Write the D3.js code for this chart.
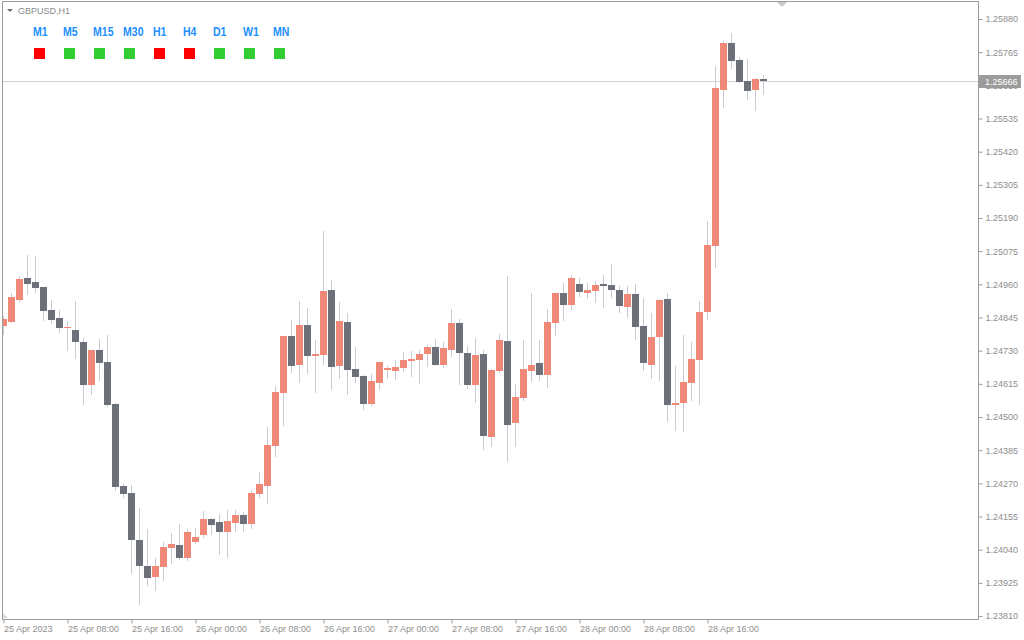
<!DOCTYPE html>
<html>
<head>
<meta charset="utf-8">
<script src="https://cdn.jsdelivr.net/npm/d3@7"></script>
<style>
body { margin: 0; background: #ffffff; }
text { font-family: 'Liberation Sans', Arial, sans-serif; }
</style>
</head>
<body>
<svg id='chart'></svg>

<script>
// GBPUSD H1, 25 Apr 2023 00:00 -> 28 Apr 2023 23:00 (one candle per hour)
var opens = [
	1.24816, 1.24830, 1.24906, 1.24982, 1.24968, 1.24951, 1.24871, 1.24843, 1.24809, 1.24802,
	1.24760, 1.24611, 1.24732, 1.24691, 1.24545, 1.24261, 1.24237, 1.24074, 1.23984, 1.23945,
	1.23980, 1.24046, 1.24056, 1.24011, 1.24067, 1.24091, 1.24147, 1.24136, 1.24102, 1.24133,
	1.24160, 1.24129, 1.24233, 1.24261, 1.24400, 1.24583, 1.24781, 1.24680, 1.24819, 1.24712,
	1.24715, 1.24940, 1.24677, 1.24830, 1.24667, 1.24642, 1.24545, 1.24618, 1.24663, 1.24660,
	1.24670, 1.24694, 1.24698, 1.24719, 1.24743, 1.24680, 1.24732, 1.24826, 1.24722, 1.24611,
	1.24719, 1.24431, 1.24660, 1.24764, 1.24479, 1.24566, 1.24660, 1.24687, 1.24646, 1.24826,
	1.24930, 1.24888, 1.24961, 1.24930, 1.24937, 1.24961, 1.24958, 1.24940, 1.24882, 1.24927,
	1.24816, 1.24680, 1.24778, 1.24909, 1.24542, 1.24549, 1.24618, 1.24698, 1.24864, 1.25093,
	1.25634, 1.25797, 1.25738, 1.25665, 1.25634, 1.25672
];
var highs = [
	1.24850, 1.24930, 1.24989, 1.25062, 1.25058, 1.24951, 1.24906, 1.24871, 1.24833, 1.24902,
	1.24774, 1.24732, 1.24771, 1.24785, 1.24549, 1.24271, 1.24264, 1.24185, 1.24112, 1.24011,
	1.24067, 1.24098, 1.24129, 1.24112, 1.24115, 1.24174, 1.24150, 1.24164, 1.24178, 1.24178,
	1.24171, 1.24247, 1.24310, 1.24466, 1.24608, 1.24781, 1.24837, 1.24902, 1.24878, 1.24767,
	1.25145, 1.24975, 1.24899, 1.24861, 1.24743, 1.24646, 1.24649, 1.24691, 1.24677, 1.24698,
	1.24726, 1.24729, 1.24732, 1.24750, 1.24771, 1.24760, 1.24875, 1.24840, 1.24746, 1.24774,
	1.24732, 1.24667, 1.24788, 1.24989, 1.24615, 1.24767, 1.24930, 1.24767, 1.24875, 1.24930,
	1.24965, 1.24993, 1.24982, 1.24965, 1.24972, 1.24993, 1.25031, 1.24954, 1.24954, 1.24961,
	1.24913, 1.24861, 1.24909, 1.24930, 1.24677, 1.24785, 1.24760, 1.24902, 1.25180, 1.25717,
	1.25804, 1.25831, 1.25748, 1.25741, 1.25675, 1.25686
];
var lows = [
	1.24788, 1.24830, 1.24902, 1.24927, 1.24934, 1.24837, 1.24826, 1.24795, 1.24732, 1.24705,
	1.24545, 1.24580, 1.24628, 1.24538, 1.24247, 1.24223, 1.23959, 1.23852, 1.23918, 1.23900,
	1.23935, 1.23994, 1.24008, 1.24004, 1.24063, 1.24084, 1.24095, 1.24025, 1.24015, 1.24105,
	1.24105, 1.24115, 1.24223, 1.24202, 1.24365, 1.24472, 1.24656, 1.24622, 1.24653, 1.24587,
	1.24684, 1.24597, 1.24635, 1.24580, 1.24622, 1.24528, 1.24542, 1.24597, 1.24635, 1.24632,
	1.24660, 1.24642, 1.24618, 1.24677, 1.24680, 1.24674, 1.24712, 1.24615, 1.24601, 1.24552,
	1.24389, 1.24400, 1.24656, 1.24348, 1.24400, 1.24559, 1.24625, 1.24628, 1.24604, 1.24785,
	1.24837, 1.24875, 1.24920, 1.24913, 1.24899, 1.24882, 1.24916, 1.24864, 1.24847, 1.24771,
	1.24663, 1.24635, 1.24628, 1.24486, 1.24455, 1.24452, 1.24559, 1.24545, 1.24840, 1.25020,
	1.25575, 1.25710, 1.25662, 1.25603, 1.25565, 1.25620
];
var closes = [
	1.24840, 1.24916, 1.24979, 1.24961, 1.24947, 1.24868, 1.24837, 1.24809, 1.24812, 1.24760,
	1.24611, 1.24732, 1.24687, 1.24542, 1.24258, 1.24233, 1.24074, 1.23984, 1.23942, 1.23984,
	1.24050, 1.24060, 1.24011, 1.24102, 1.24084, 1.24147, 1.24126, 1.24102, 1.24140, 1.24160,
	1.24129, 1.24237, 1.24268, 1.24403, 1.24587, 1.24781, 1.24677, 1.24819, 1.24712, 1.24719,
	1.24937, 1.24674, 1.24833, 1.24663, 1.24639, 1.24545, 1.24625, 1.24691, 1.24670, 1.24674,
	1.24698, 1.24701, 1.24719, 1.24743, 1.24680, 1.24739, 1.24826, 1.24722, 1.24611, 1.24715,
	1.24434, 1.24663, 1.24767, 1.24472, 1.24570, 1.24667, 1.24680, 1.24646, 1.24830, 1.24930,
	1.24888, 1.24982, 1.24934, 1.24940, 1.24958, 1.24954, 1.24940, 1.24885, 1.24927, 1.24812,
	1.24687, 1.24778, 1.24906, 1.24542, 1.24549, 1.24622, 1.24701, 1.24864, 1.25097, 1.25641,
	1.25797, 1.25734, 1.25662, 1.25630, 1.25672, 1.25666
];

var bidPrice = 1.25666;

var priceTicks = [
	1.23810, 1.23925, 1.24040, 1.24155, 1.24270, 1.24385, 1.24500, 1.24615, 1.24730, 1.24845,
	1.24960, 1.25075, 1.25190, 1.25305, 1.25420, 1.25535, 1.25650, 1.25765, 1.25880
];
var timeTickHours = [0, 8, 16, 24, 32, 40, 48, 56, 64, 72, 80, 88];
var timeTickLabels = [
	'25 Apr 2023', '25 Apr 08:00', '25 Apr 16:00', '26 Apr 00:00', '26 Apr 08:00', '26 Apr 16:00',
	'27 Apr 00:00', '27 Apr 08:00', '27 Apr 16:00', '28 Apr 00:00', '28 Apr 08:00', '28 Apr 16:00'
];

// trend panel in the top left corner
var tfNames = ['M1', 'M5', 'M15', 'M30', 'H1', 'H4', 'D1', 'W1', 'MN'];
var tfUp = [false, true, true, true, false, false, true, true, true];

var dims = {
	width: 1024,
	height: 640,
	left: 2,
	top: 1,
	right: 978,
	bottom: 619,
	barStep: 8,
	bodyWidth: 7
};

var colors = {
	bull: '#f08878',
	bear: '#6b7079',
	wick: '#c8ccd8',
	frame: '#9c9c9c',
	text: '#8e8e8e',
	bid: '#d4d4d4',
	tfText: '#1e90ff',
	tfUp: '#32cd32',
	tfDown: '#ff0000'
};

var hour = 3600 * 1000;
var t0 = Date.UTC(2023, 3, 25, 0, 0);
var candles = opens.map((o, i) => ({
	t: new Date(t0 + i * hour),
	o: o, h: highs[i], l: lows[i], c: closes[i]
}));

var svg = d3.select('#chart')
	.attr('width', dims.width)
	.attr('height', dims.height)
	.style('display', 'block');

svg.append('rect')
	.attr('width', dims.width)
	.attr('height', dims.height)
	.attr('fill', '#ffffff');

var x = d3.scaleUtc()
	.domain([new Date(t0), new Date(t0 + 96 * hour)])
	.range([3.5, 3.5 + 96 * dims.barStep]);

var y = d3.scaleLinear()
	.domain([1.23810, 1.25880])
	.range([616, 19]);

svg.append('clipPath').attr('id', 'plotclip')
	.append('rect')
	.attr('x', dims.left + 1)
	.attr('y', dims.top + 1)
	.attr('width', dims.right - dims.left - 1)
	.attr('height', dims.bottom - dims.top - 1);

var plot = svg.append('g').attr('clip-path', 'url(#plotclip)');

// bid line
plot.append('line')
	.attr('x1', dims.left)
	.attr('x2', dims.right)
	.attr('y1', Math.round(y(bidPrice)) + 0.5)
	.attr('y2', Math.round(y(bidPrice)) + 0.5)
	.attr('stroke', colors.bid)
	.attr('stroke-width', 1);

var candle = plot.selectAll('g.candle')
	.data(candles)
	.enter()
	.append('g')
	.attr('class', 'candle');

candle.append('line')
	.attr('x1', d => x(d.t))
	.attr('x2', d => x(d.t))
	.attr('y1', d => Math.round(y(d.h)))
	.attr('y2', d => Math.round(y(d.l)) + 1)
	.attr('stroke', colors.wick)
	.attr('stroke-width', 1);

candle.append('rect')
	.attr('x', d => x(d.t) - dims.bodyWidth / 2)
	.attr('width', dims.bodyWidth)
	.attr('y', d => Math.round(y(Math.max(d.o, d.c))))
	.attr('height', d => Math.max(1, Math.round(y(Math.min(d.o, d.c))) - Math.round(y(Math.max(d.o, d.c)))))
	.attr('fill', d => d.c >= d.o ? colors.bull : colors.bear)
	.attr('shape-rendering', 'crispEdges');

// frame
svg.append('rect')
	.attr('x', dims.left + 0.5)
	.attr('y', dims.top + 0.5)
	.attr('width', dims.right - dims.left)
	.attr('height', dims.bottom - dims.top)
	.attr('fill', 'none')
	.attr('stroke', colors.frame)
	.attr('stroke-width', 1);

// chart shift marker and corner mark
svg.append('path')
	.attr('d', 'M777,2 L787,2 L782,7 Z')
	.attr('fill', '#c8c8c8');
svg.append('path')
	.attr('d', 'M3,613 L3,618 L8,618 Z')
	.attr('fill', '#d8d8e4');

// price axis
var yAxis = d3.axisRight(y)
	.tickValues(priceTicks)
	.tickSize(4)
	.tickPadding(3)
	.tickFormat(d3.format('.5f'));

var yg = svg.append('g')
	.attr('transform', 'translate(' + (dims.right + 0.5) + ',0)')
	.call(yAxis);
yg.select('.domain').remove();
yg.selectAll('.tick line').attr('stroke', colors.frame);
yg.selectAll('.tick text')
	.attr('fill', colors.text)
	.style('font-size', '9px')
	.style('font-family', "'Liberation Sans', Arial, sans-serif");

// time axis
var xAxis = d3.axisBottom(x)
	.tickValues(timeTickHours.map(h => new Date(t0 + h * hour)))
	.tickSize(4)
	.tickFormat((d, i) => timeTickLabels[i]);

var xg = svg.append('g')
	.attr('transform', 'translate(0,' + (dims.bottom + 0.5) + ')')
	.call(xAxis);
xg.select('.domain').remove();
xg.selectAll('.tick line').attr('stroke', colors.frame);
xg.selectAll('.tick text')
	.attr('fill', colors.text)
	.attr('text-anchor', 'start')
	.attr('x', 0)
	.attr('dy', '0.71em')
	.attr('y', 6)
	.style('font-size', '9px')
	.style('font-family', "'Liberation Sans', Arial, sans-serif");

// bid label on the price scale
var bidY = Math.round(y(bidPrice));
svg.append('rect')
	.attr('x', dims.right + 1)
	.attr('y', bidY - 6)
	.attr('width', 42)
	.attr('height', 13)
	.attr('fill', '#9c9c9c');
svg.append('text')
	.attr('x', dims.right + 7)
	.attr('y', bidY + 0.5)
	.attr('dy', '0.35em')
	.attr('fill', '#ffffff')
	.style('font-size', '9px')
	.text(d3.format('.5f')(bidPrice));

// symbol title
svg.append('path')
	.attr('d', 'M7,9 L13,9 L10,12 Z')
	.attr('fill', '#707070');
svg.append('text')
	.attr('x', 18)
	.attr('y', 11)
	.attr('dy', '0.35em')
	.attr('fill', '#8a8a8a')
	.style('font-size', '9px')
	.text('GBPUSD,H1');

// multi timeframe trend panel
var tf = svg.selectAll('g.tf')
	.data(tfNames)
	.enter()
	.append('g')
	.attr('class', 'tf')
	.attr('transform', (d, i) => 'translate(' + (33 + 30 * i) + ',0)');

tf.append('text')
	.attr('transform', 'translate(0,36) scale(0.88,1)')
	.attr('fill', colors.tfText)
	.style('font-family', "'Liberation Sans', Arial, sans-serif")
	.style('font-weight', 'bold')
	.style('font-size', '12px')
	.text(d => d);

tf.append('rect')
	.attr('x', 1)
	.attr('y', 48)
	.attr('width', 11)
	.attr('height', 11)
	.attr('fill', (d, i) => tfUp[i] ? colors.tfUp : colors.tfDown);
</script>

</body>
</html>
